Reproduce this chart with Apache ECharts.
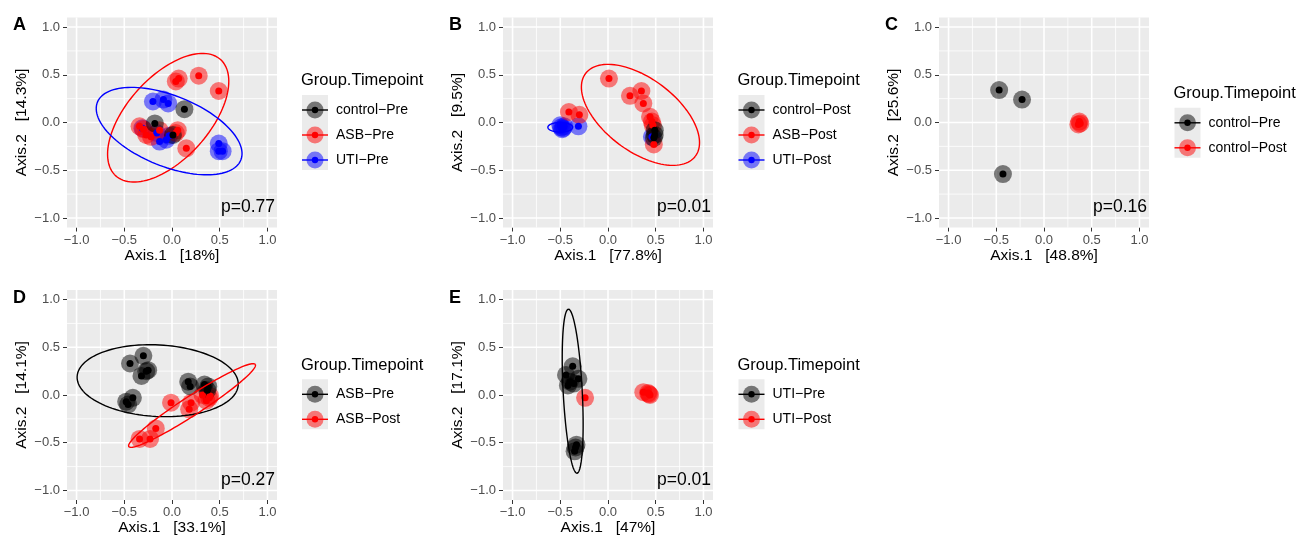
<!DOCTYPE html>
<html>
<head>
<meta charset="utf-8">
<script src="https://cdn.jsdelivr.net/npm/echarts@6/dist/echarts.min.js"></script>
<style>
html, body { margin: 0; padding: 0; background: #fff; }
#main { width: 1299px; height: 537px; }
</style>
</head>
<body>
<div id="main"></div>
<script>
var chart = echarts.init(document.getElementById('main'))

// axis breaks (ggplot style major / minor)
var tickValues = [-1, -0.5, 0, 0.5, 1]
var minorValues = [-0.75, -0.25, 0.25, 0.75]

var panelLetters = ['A', 'B', 'C', 'D', 'E']
var pValues = ['p=0.77', 'p=0.01', 'p=0.16', 'p=0.27', 'p=0.01']
var xTitles = ['Axis.1   [18%]', 'Axis.1   [77.8%]', 'Axis.1   [48.8%]', 'Axis.1   [33.1%]', 'Axis.1   [47%]']
var yTitles = ['Axis.2   [14.3%]', 'Axis.2   [9.5%]', 'Axis.2   [25.6%]', 'Axis.2   [14.1%]', 'Axis.2   [17.1%]']

// A: Pre, all groups
var aControlPre = [[0.13, 0.14], [-0.18, -0.01], [0.01, -0.13]]
var aAsbPre = [[0.04, 0.43], [0.07, 0.46], [0.28, 0.49], [0.49, 0.33], [0.15, -0.27], [-0.34, -0.04],
  [-0.30, -0.07], [-0.27, -0.13], [-0.22, -0.15], [-0.13, -0.08], [0.06, -0.08], [0.04, -0.11]]
var aUtiPre = [[-0.20, 0.22], [-0.09, 0.24], [-0.04, 0.20], [0.49, -0.22], [0.49, -0.30], [0.53, -0.30],
  [-0.31, -0.06], [-0.13, -0.20], [-0.06, -0.18], [-0.16, -0.11], [-0.03, -0.14]]

// B: Post, all groups
var bControlPost = [[0.49, -0.08], [0.49, -0.13], [0.48, -0.16]]
var bAsbPost = [[0.01, 0.46], [0.23, 0.28], [0.35, 0.33], [0.37, 0.20], [0.44, 0.06], [0.46, 0.01],
  [0.47, -0.03], [0.48, -0.23], [-0.41, 0.11], [-0.30, 0.08]]
var bUtiPost = [[-0.49, -0.05], [-0.48, -0.07], [-0.46, -0.04], [-0.50, -0.03], [-0.47, -0.06], [-0.31, -0.04], [0.46, -0.15]]

// C: control
var cControlPre = [[-0.47, 0.34], [-0.23, 0.24], [-0.43, -0.54]]
var cControlPost = [[0.37, 0.01], [0.36, -0.02], [0.38, -0.01]]

// D: ASB
var dAsbPre = [[-0.44, 0.33], [-0.30, 0.41], [-0.27, 0.25], [-0.25, 0.26], [-0.32, 0.20], [-0.48, -0.07],
  [-0.41, -0.03], [-0.46, -0.10], [0.17, 0.14], [0.19, 0.09], [0.34, 0.11], [0.38, 0.09], [0.37, 0.05]]
var dAsbPost = [[-0.01, -0.08], [0.18, -0.15], [0.20, -0.08], [0.32, 0.00], [0.39, -0.03], [0.36, -0.06],
  [0.40, -0.01], [-0.34, -0.46], [-0.23, -0.46], [-0.17, -0.35]]

// E: UTI
var eUtiPre = [[-0.44, 0.21], [-0.37, 0.30], [-0.40, 0.14], [-0.31, 0.17], [-0.42, 0.10], [-0.36, 0.12],
  [-0.33, -0.52], [-0.35, -0.59], [-0.34, -0.55]]
var eUtiPost = [[-0.24, -0.03], [0.37, 0.03], [0.42, 0.02], [0.44, 0.00], [0.43, 0.01]]

// ellipses: [center x, center y, semi axis a, semi axis b, angle deg, group index]
var aEllipses = [[-0.04, 0.05, 0.82, 0.43, 48, 1], [-0.03, -0.09, 0.81, 0.37, -22, 2]]
var bEllipses = [[0.34, 0.08, 0.72, 0.38, -37, 1], [-0.50, -0.05, 0.13, 0.05, 0, 2]]
var cEllipses = []
var dEllipses = [[-0.15, 0.15, 0.845, 0.375, -3, 0], [0.21, -0.11, 0.79, 0.10, 33, 1]]
var eEllipses = [[-0.37, 0.04, 0.86, 0.10, 93, 0]]

var groupNames = [
  ['control\u2212Pre', 'ASB\u2212Pre', 'UTI\u2212Pre'],
  ['control\u2212Post', 'ASB\u2212Post', 'UTI\u2212Post'],
  ['control\u2212Pre', 'control\u2212Post'],
  ['ASB\u2212Pre', 'ASB\u2212Post'],
  ['UTI\u2212Pre', 'UTI\u2212Post']
]
var groupPoints = [
  [aControlPre, aAsbPre, aUtiPre],
  [bControlPost, bAsbPost, bUtiPost],
  [cControlPre, cControlPost],
  [dAsbPre, dAsbPost],
  [eUtiPre, eUtiPost]
]
var panelEllipses = [aEllipses, bEllipses, cEllipses, dEllipses, eEllipses]

var BLACK = '#000000', RED = '#FF0000', BLUE = '#0000FF'
var groupColors = [[BLACK, RED, BLUE], [BLACK, RED, BLUE], [BLACK, RED], [BLACK, RED], [BLACK, RED]]

// layout of each panel
var gridPos = [[67, 17.5], [503, 17.5], [939, 17.5], [67, 290], [503, 290]]
var legendPos = [[301, 80.7], [737.5, 80.7], [1173.5, 93.5], [301, 365], [737.5, 365]]
var PW = 210, PH = 210
var LIM = 1.1
var FONT = 'Liberation Sans, Arial, Helvetica, sans-serif'

function fmt(v) {
  return (v < 0 ? '\u2212' : '') + Math.abs(v).toFixed(1)
}

var grids = [], xAxes = [], yAxes = [], series = []

for (var p = 0; p < 5; p++) {
  var gx = gridPos[p][0], gy = gridPos[p][1]
  grids.push({
    left: gx, top: gy, width: PW, height: PH,
    show: false, containLabel: false, outerBoundsMode: 'none'
  })
  var axisCommon = {
    gridIndex: p, type: 'value', min: -LIM, max: LIM,
    axisLine: { show: false, onZero: false },
    axisTick: { show: true, length: 4, customValues: tickValues, lineStyle: { color: '#333333', width: 1 } },
    axisLabel: { customValues: tickValues, color: '#4D4D4D', fontSize: 13, fontFamily: FONT, formatter: fmt },
    splitLine: { show: false },
    nameLocation: 'middle',
    nameTextStyle: { color: '#000', fontSize: 15.5, fontFamily: FONT }
  }
  xAxes.push(Object.assign({}, axisCommon, {
    axisLabel: Object.assign({}, axisCommon.axisLabel, { margin: 6 }),
    name: xTitles[p], nameGap: 19
  }))
  yAxes.push(Object.assign({}, axisCommon, {
    axisLabel: Object.assign({}, axisCommon.axisLabel, { margin: 7 }),
    name: yTitles[p], nameGap: 37
  }))

  // translucent big points, then solid small points (last group drawn first)
  for (var g = groupPoints[p].length - 1; g >= 0; g--) {
    series.push({
      type: 'scatter', xAxisIndex: p, yAxisIndex: p, z: 4, silent: true,
      data: groupPoints[p][g], symbolSize: 18,
      itemStyle: { color: groupColors[p][g], opacity: 0.5 }
    })
  }
  for (var g2 = groupPoints[p].length - 1; g2 >= 0; g2--) {
    series.push({
      type: 'scatter', xAxisIndex: p, yAxisIndex: p, z: 5, silent: true,
      data: groupPoints[p][g2], symbolSize: 7,
      itemStyle: { color: groupColors[p][g2], opacity: 1 }
    })
  }

  // confidence ellipses
  if (panelEllipses[p].length) {
    series.push({
      type: 'custom', xAxisIndex: p, yAxisIndex: p, z: 6, silent: true,
      data: panelEllipses[p],
      encode: { x: 0, y: 1 },
      renderItem: (function (pp) {
        return function (params, api) {
          var cx = api.value(0), cy = api.value(1), a = api.value(2), b = api.value(3)
          var t = api.value(4) * Math.PI / 180
          var pts = []
          for (var k = 0; k <= 120; k++) {
            var u = k / 120 * 2 * Math.PI
            var ex = a * Math.cos(u), ey = b * Math.sin(u)
            pts.push(api.coord([cx + ex * Math.cos(t) - ey * Math.sin(t), cy + ex * Math.sin(t) + ey * Math.cos(t)]))
          }
          return {
            type: 'polyline', shape: { points: pts },
            style: { fill: null, stroke: groupColors[pp][api.value(5)], lineWidth: 1.4 }
          }
        }
      })(p)
    })
  }
}

chart.setOption({
  animation: false,
  grid: grids,
  xAxis: xAxes,
  yAxis: yAxes,
  series: series
})

// panel background + grid lines, placed with the chart's own scales
var graphics = []
for (var q = 0; q < 5; q++) {
  var lo = chart.convertToPixel({ gridIndex: q }, [-LIM, -LIM])
  var hi = chart.convertToPixel({ gridIndex: q }, [LIM, LIM])
  graphics.push({
    type: 'rect', z: 0, silent: true,
    shape: { x: lo[0], y: hi[1], width: hi[0] - lo[0], height: lo[1] - hi[1] },
    style: { fill: '#EBEBEB' }
  })
  ;[[minorValues, 0.8], [tickValues, 1.6]].forEach(function (set) {
    set[0].forEach(function (v) {
      var vx0 = chart.convertToPixel({ gridIndex: q }, [v, -LIM])
      var vx1 = chart.convertToPixel({ gridIndex: q }, [v, LIM])
      var hy0 = chart.convertToPixel({ gridIndex: q }, [-LIM, v])
      var hy1 = chart.convertToPixel({ gridIndex: q }, [LIM, v])
      graphics.push({
        type: 'line', z: 1, silent: true,
        shape: { x1: vx0[0], y1: vx0[1], x2: vx1[0], y2: vx1[1] },
        style: { stroke: '#FFFFFF', lineWidth: set[1] }
      })
      graphics.push({
        type: 'line', z: 1, silent: true,
        shape: { x1: hy0[0], y1: hy0[1], x2: hy1[0], y2: hy1[1] },
        style: { stroke: '#FFFFFF', lineWidth: set[1] }
      })
    })
  })

  var gx2 = gridPos[q][0], gy2 = gridPos[q][1]
  // panel letter
  graphics.push({
    type: 'text', left: gx2 - 54, top: gy2 - 1,
    style: { text: panelLetters[q], font: 'bold 18px ' + FONT, fill: '#000' }
  })
  // p value
  graphics.push({
    type: 'text', x: gx2 + PW - 2, y: gy2 + 190, z: 10,
    style: { text: pValues[q], font: '17.5px ' + FONT, fill: '#000', align: 'right', verticalAlign: 'middle' }
  })

  // legend
  var lx = legendPos[q][0], ly = legendPos[q][1]
  graphics.push({
    type: 'text', x: lx, y: ly,
    style: { text: 'Group.Timepoint', font: '16.5px ' + FONT, fill: '#000', verticalAlign: 'middle' }
  })
  graphics.push({
    type: 'rect', shape: { x: lx + 1, y: ly + 14.3, width: 26, height: 25 * groupNames[q].length },
    style: { fill: '#EBEBEB' }
  })
  groupNames[q].forEach(function (name, gi) {
    var iy = ly + 29.3 + gi * 25
    var col = groupColors[q][gi]
    graphics.push({
      type: 'line', shape: { x1: lx + 1, y1: iy, x2: lx + 27, y2: iy },
      style: { stroke: col, lineWidth: 1.4 }
    })
    graphics.push({
      type: 'circle', shape: { cx: lx + 14, cy: iy, r: 8.5 },
      style: { fill: col, opacity: 0.5 }
    })
    graphics.push({
      type: 'circle', shape: { cx: lx + 14, cy: iy, r: 3.2 },
      style: { fill: col }
    })
    graphics.push({
      type: 'text', x: lx + 35, y: iy,
      style: { text: name, font: '14px ' + FONT, fill: '#000', verticalAlign: 'middle' }
    })
  })
}

chart.setOption({ graphic: graphics })
</script>
</body>
</html>
